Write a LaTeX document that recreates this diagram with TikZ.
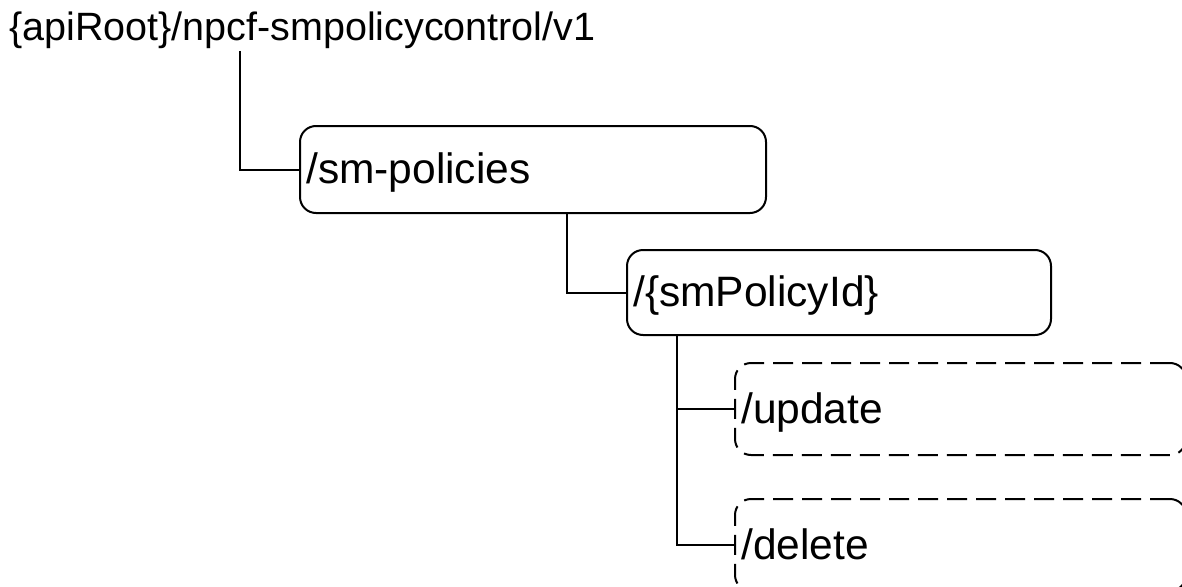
\documentclass[tikz,border=0pt]{standalone}
\usepackage{fontspec}
\setmainfont{Liberation Sans}
\begin{document}
\begin{tikzpicture}[x=1pt,y=-1pt,
  conn/.style={line width=2pt},
  resbox/.style={draw,line width=2pt,rounded corners=16pt,inner sep=0pt},
  optbox/.style={resbox,dash pattern=on 20pt off 9pt},
  restext/.style={anchor=base west,inner sep=0pt,font=\fontsize{42.5}{47}\selectfont}]
\useasboundingbox (0,0) rectangle (1182,586);
\clip (0,0) rectangle (1182,586);
\node[anchor=base west,inner sep=0pt,font=\fontsize{39.5}{44}\selectfont] (root) at (9,41) {\{apiRoot\}/npcf-smpolicycontrol/v1};
\node[resbox,minimum width=466pt,minimum height=87pt] (b1) at (533,169.5) {};
\node[resbox,minimum width=424pt,minimum height=85pt] (b2) at (839,292.5) {};
\node[optbox,minimum width=451pt,minimum height=92pt] (b3) at (960.5,409) {};
\node[optbox,minimum width=451pt,minimum height=92pt] (b4) at (960.5,545) {};
\node[restext] (t1) at ([xshift=7pt,yshift=-14pt]b1.west) {/sm-policies};
\node[restext] (t2) at ([xshift=7pt,yshift=-14pt]b2.west) {/\{smPolicyId\}};
\node[restext] (t3) at ([xshift=7pt,yshift=-14pt]b3.west) {/update};
\node[restext] (t4) at ([xshift=7pt,yshift=-14pt]b4.west) {/delete};
\coordinate (rd) at (240,51);
\draw[conn] (rd) |- (b1.west);
\draw[conn] ([xshift=268pt]b1.south west) |- (b2.west);
\draw[conn] ([xshift=51pt]b2.south west) |- (b3.west);
\draw[conn] ([xshift=51pt]b2.south west) |- (b4.west);
\end{tikzpicture}
\end{document}
